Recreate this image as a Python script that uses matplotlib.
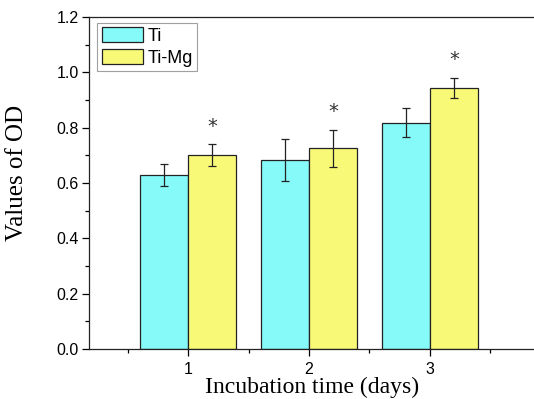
import matplotlib
matplotlib.use("Agg")
import matplotlib.pyplot as plt
import numpy as np
from matplotlib.ticker import MultipleLocator

days = [1, 2, 3]
ti_mean = [0.63, 0.683, 0.818]
ti_err = [0.04, 0.075, 0.052]
timg_mean = [0.70, 0.725, 0.944]
timg_err = [0.04, 0.068, 0.036]
series_names = ["Ti", "Ti-Mg"]
y_ticks = [0.0, 0.2, 0.4, 0.6, 0.8, 1.0, 1.2]

fig = plt.figure(figsize=(5.34, 3.99), dpi=100)
ax = fig.add_axes([89/534, 1-349/399, 1-89/534 + 0.002, (349-17)/399])

x = np.array(days, dtype=float)
w = 0.4
cyan = "#86F9F9"
yellow = "#F9F978"
ekw = dict(ecolor="#222222", elinewidth=0.9, capsize=2.6, capthick=0.9)
ax.bar(x - w/2, ti_mean, w, yerr=ti_err, color=cyan, edgecolor="#222222",
       linewidth=0.9, label=series_names[0], error_kw=ekw)
ax.bar(x + w/2, timg_mean, w, yerr=timg_err, color=yellow, edgecolor="#222222",
       linewidth=0.9, label=series_names[1], error_kw=ekw)

for xi, m, e in zip(x + w/2, timg_mean, timg_err):
    ax.text(xi, m + e + 0.066, "*", ha="center", va="center", fontsize=14,
            family="DejaVu Sans", color="#333333")

ax.set_xlim(0.18, 3.87)
ax.set_ylim(0, 1.2)
ax.set_xticks(days)
ax.set_xticklabels([str(d) for d in days])
ax.set_xticks([0.5, 1.5, 2.5, 3.5], minor=True)
ax.set_yticks(y_ticks)
ax.set_yticklabels([f"{v:.1f}" for v in y_ticks])
ax.yaxis.set_minor_locator(MultipleLocator(0.1))
ax.tick_params(axis="both", which="major", direction="out", length=5, width=0.9,
               labelsize=11.5, pad=2.5)
ax.tick_params(axis="x", which="major", pad=4.5)
ax.tick_params(axis="both", which="minor", direction="out", length=3, width=0.9)
for lab in ax.get_xticklabels() + ax.get_yticklabels():
    lab.set_family("Liberation Sans")

for s in ["left", "bottom", "top"]:
    ax.spines[s].set_linewidth(0.9)
    ax.spines[s].set_color("#222222")
ax.spines["right"].set_visible(False)

ax.set_xlabel("Incubation time (days)", family="Liberation Serif", fontsize=17)
ax.set_ylabel("Values of OD", family="Liberation Serif", fontsize=18)
ax.xaxis.set_label_coords(0.5, (349-377)/332)
ax.yaxis.set_label_coords((28-89)/445, (349-173)/332)

leg = ax.legend(loc="upper left", bbox_to_anchor=(0.018, 0.982), frameon=True,
                fancybox=False, edgecolor="#888888",
                prop=dict(family="Liberation Sans", size=13),
                handlelength=2.3, handleheight=0.9, borderpad=0.25,
                labelspacing=0.2, handletextpad=0.25, borderaxespad=0)
leg.get_frame().set_linewidth(0.8)

fig.savefig("out.png", dpi=100)
